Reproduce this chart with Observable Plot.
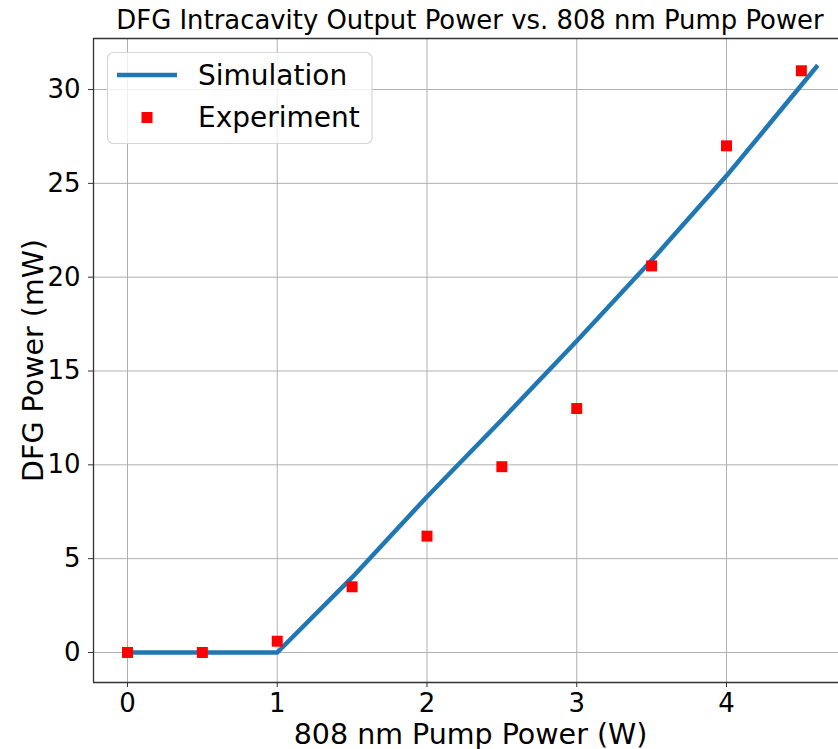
<!DOCTYPE html>
<html>
<head>
<meta charset="utf-8">
<script src="https://cdn.jsdelivr.net/npm/d3@7"></script>
<script src="https://cdn.jsdelivr.net/npm/@observablehq/plot@0.6"></script>
<style>
html, body { margin: 0; padding: 0; background: #fff; overflow: hidden; }
#wrap { position: relative; width: 838px; height: 749px; }
#title { position: absolute; left: 0; top: 4px; width: 940px; height: 32px; text-align: center;
  font-family: "DejaVu Sans", sans-serif; font-size: 25.9px; line-height: 32px; color: #000; white-space: nowrap; }
#chart { position: absolute; left: 0; top: 36px; }
</style>
</head>
<body>
<div id="wrap">
  <div id="title">DFG Intracavity Output Power vs. 808 nm Pump Power</div>
  <div id="chart"></div>
</div>
<script>
// Simulation curve
const simX = [0, 1, 1.5, 2, 2.5, 3, 3.5, 4, 4.6];
const simY = [0, 0, 4.0, 8.3, 12.4, 16.6, 20.9, 25.4, 31.2];
// Experimental points
const expX = [0, 0.5, 1, 1.5, 2, 2.5, 3, 3.5, 4, 4.5];
const expY = [0, 0, 0.6, 3.5, 6.2, 9.9, 13.0, 20.6, 27.0, 31.0];
// Ticks
const xTicks = [0, 1, 2, 3, 4];
const yTicks = [0, 5, 10, 15, 20, 25, 30];
const xLabel = "808 nm Pump Power (W)";
const yLabel = "DFG Power (mW)";
const legendLabels = ["Simulation", "Experiment"];

const sim = simX.map((x, i) => ({x, y: simY[i]}));
const exp = expX.map((x, i) => ({x, y: expY[i]}));

const xDomain = [-0.227, 4.748];
const yDomain = [-1.60, 32.72];
const fmt = d3.format("d");

const plot = Plot.plot({
  width: 838,
  height: 713,
  marginLeft: 93,
  marginRight: 0,
  marginTop: 2,
  marginBottom: 67,
  x: {domain: xDomain, label: null},
  y: {domain: yDomain, label: null},
  style: {fontFamily: "DejaVu Sans, sans-serif", fontSize: "26px", color: "#000", background: "#fff", overflow: "visible"},
  marks: [
    Plot.gridX(xTicks, {stroke: "#b0b0b0", strokeOpacity: 1, strokeWidth: 1}),
    Plot.gridY(yTicks, {stroke: "#b0b0b0", strokeOpacity: 1, strokeWidth: 1}),
    Plot.axisX(xTicks, {tickSize: 5, tickPadding: 6.5, fontSize: 26, label: null, stroke: "#333", tickFormat: fmt}),
    Plot.axisY(yTicks, {tickSize: 5, tickPadding: 8, fontSize: 26, label: null, stroke: "#333", tickFormat: fmt}),
    Plot.ruleX([xDomain[0]], {stroke: "#333", strokeWidth: 1.3}),
    Plot.ruleY([yDomain[0]], {stroke: "#333", strokeWidth: 1.3}),
    Plot.ruleY([yDomain[1]], {stroke: "#333", strokeWidth: 1.3}),
    Plot.line(sim, {x: "x", y: "y", stroke: "#1f77b4", strokeWidth: 4.5, strokeLinecap: "square", strokeLinejoin: "round"}),
    Plot.dot(exp, {x: "x", y: "y", symbol: "square", r: 6.2, fill: "#ff0000", stroke: "none"}),
    Plot.text([xLabel], {frameAnchor: "bottom", textAnchor: "middle", lineAnchor: "middle", dx: 4.5, dy: 52, fontSize: 28.5, fill: "#000"}),
    Plot.text([yLabel], {frameAnchor: "left", textAnchor: "middle", lineAnchor: "middle", rotate: -90, dx: -60, fontSize: 28.5, fill: "#000"})
  ]
});
document.getElementById("chart").appendChild(plot);

// Legend (upper left, matplotlib style)
const svg = d3.select(plot);
const g = svg.append("g").attr("font-family", "DejaVu Sans, sans-serif").attr("text-anchor", "start");
const top0 = 36;
g.append("rect").attr("x", 107.5).attr("y", 52.5 - top0).attr("width", 264.5).attr("height", 91)
  .attr("rx", 6).attr("fill", "#fff").attr("fill-opacity", 0.8).attr("stroke", "#d6d6d6").attr("stroke-width", 1.2);
g.append("line").attr("x1", 117).attr("x2", 177).attr("y1", 75 - top0).attr("y2", 75 - top0)
  .attr("stroke", "#1f77b4").attr("stroke-width", 4.5);
g.append("rect").attr("x", 141.5).attr("y", 112 - top0).attr("width", 11).attr("height", 11).attr("fill", "#ff0000");
g.append("text").attr("x", 198).attr("y", 75 - top0).attr("dy", "0.35em").attr("font-size", 28).attr("fill", "#000").attr("text-anchor", "start").text(legendLabels[0]);
g.append("text").attr("x", 198).attr("y", 117 - top0).attr("dy", "0.35em").attr("font-size", 28).attr("fill", "#000").attr("text-anchor", "start").text(legendLabels[1]);
</script>
</body>
</html>
